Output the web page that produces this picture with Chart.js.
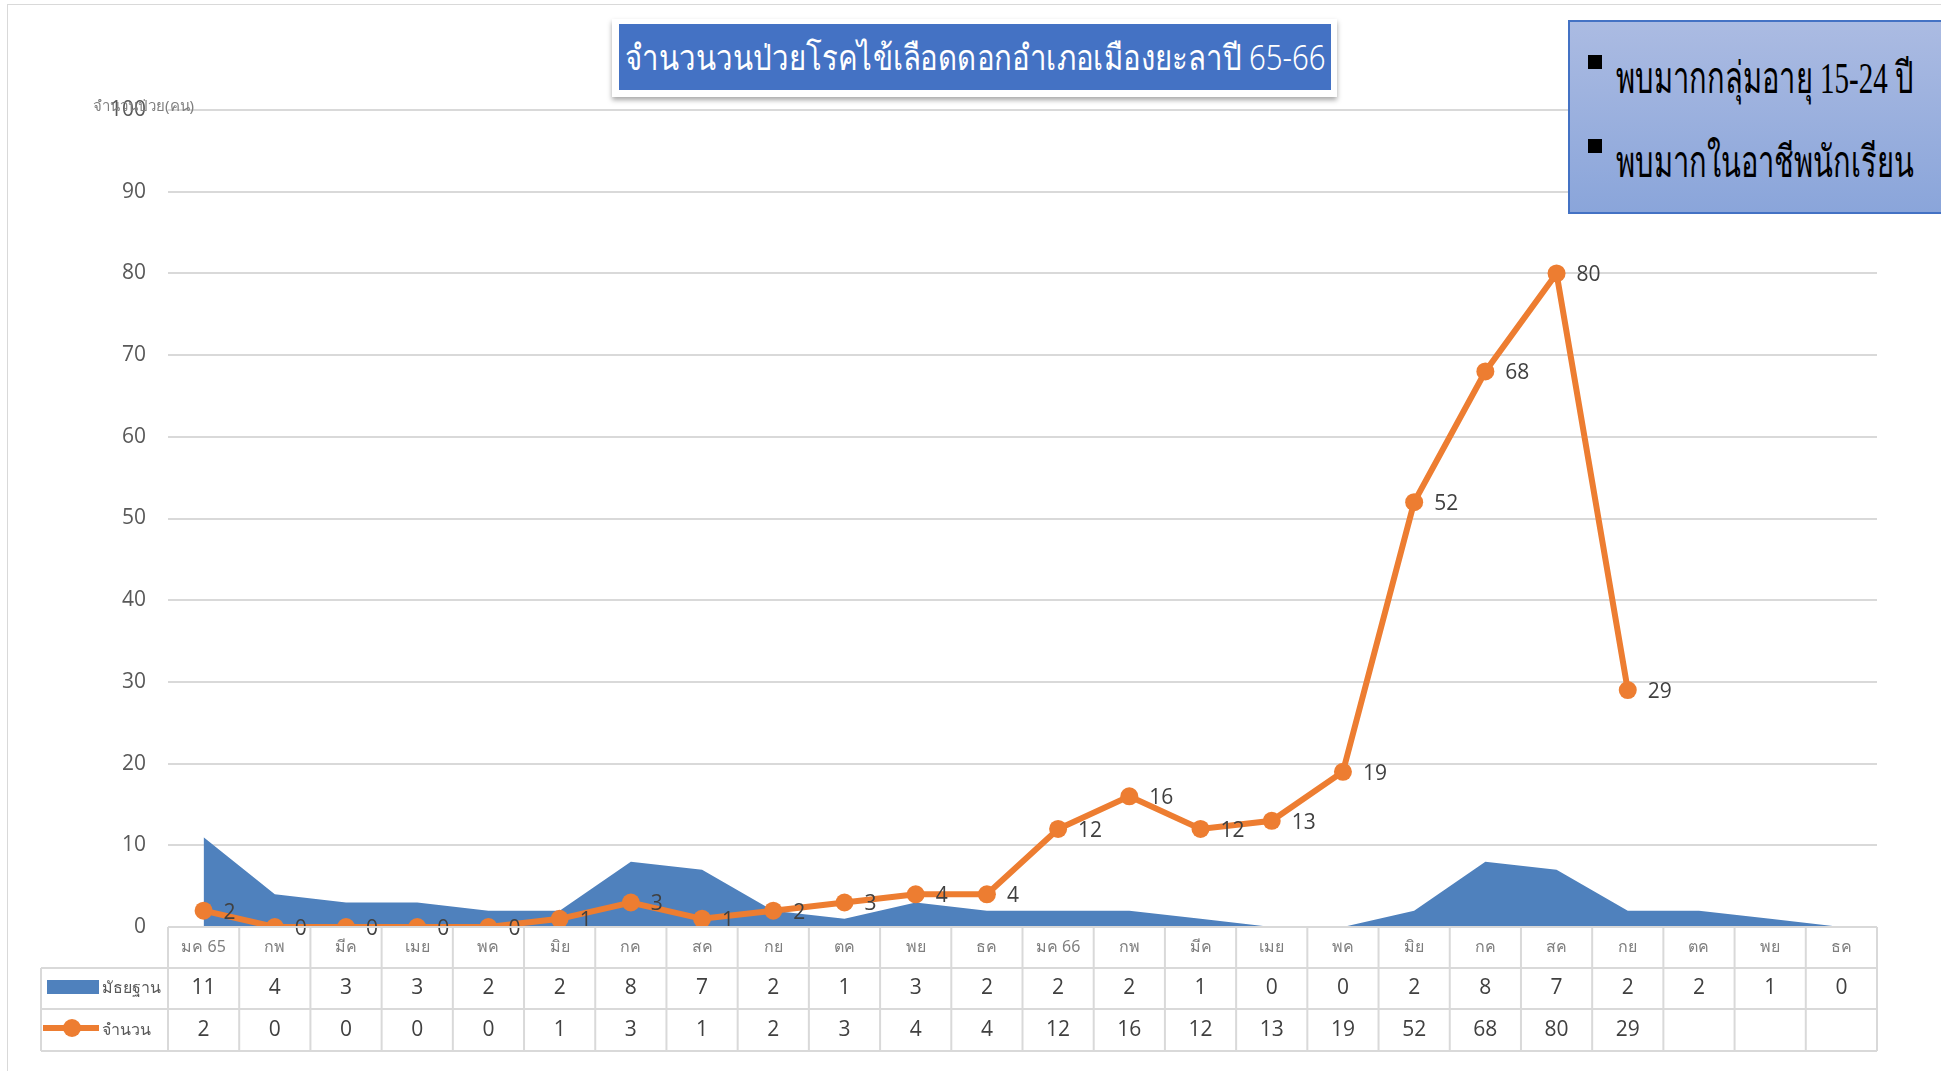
<!DOCTYPE html>
<html lang="th">
<head>
<meta charset="UTF-8">
<title>จำนวนป่วยโรคไข้เลือดออก</title>
<script src="https://cdn.jsdelivr.net/npm/chart.js"></script>
<style>
    body { margin: 0; background: #fff; }
    #wrap { position: relative; width: 1941px; height: 1071px; overflow: hidden; }
    #frame { position: absolute; left: 7px; top: 4px; width: 1960px; height: 1100px; border: 1px solid #d9d9d9; }
    canvas { position: absolute; left: 0; top: 0; }
    #title_box {
        position: absolute; left: 612px; top: 19px; width: 725px; height: 78px;
        background: #fff; box-shadow: 0 3px 5px rgba(0,0,0,0.35);
    }
    #title_box div {
        position: absolute; left: 7px; top: 5px; right: 6px; bottom: 7px;
        background: #4472c4; color: #fff; font-family: "Noto Sans", sans-serif; font-weight: 300;
        font-size: 35px; line-height: 66px; text-align: center; white-space: nowrap;
    }
    #title_box span { display: inline-block; transform: scaleX(0.84); transform-origin: center; margin: 0 -80px; }
    #note_box {
        position: absolute; left: 1568px; top: 20px; width: 400px; height: 190px;
        border: 2px solid #4472c4;
        background: linear-gradient(#abbbe2, #8aa5da);
        font-family: "Liberation Serif", serif; color: #000;
    }
    #note_box p { position: absolute; left: 18px; margin: 0; font-size: 44px; white-space: nowrap; }
    #note_box i { display: inline-block; width: 14px; height: 14px; background: #000; margin-right: 14px; vertical-align: 24px; }
    #note_box b { font-weight: normal; display: inline-block; transform: scaleX(0.66); transform-origin: left center; }
</style>
</head>
<body>
<div id="wrap">
    <div id="frame"></div>
    <canvas id="grafico" width="1941" height="1071"></canvas>
    <div id="title_box"><div><span>จำนวนวนป่วยโรคไข้เลือดดอกอำเภอเมืองยะลาปี 65-66</span></div></div>
    <div id="note_box">
        <p style="top: 20px;"><i></i><b>พบมากกลุ่มอายุ 15-24 ปี</b></p>
        <p style="top: 104px;"><i></i><b>พบมากในอาชีพนักเรียน</b></p>
    </div>
</div>

<script>
    // dados
    var meses = ["มค 65", "กพ", "มีค", "เมย", "พค", "มิย", "กค", "สค", "กย", "ตค", "พย", "ธค",
        "มค 66", "กพ", "มีค", "เมย", "พค", "มิย", "กค", "สค", "กย", "ตค", "พย", "ธค"]
    var mediana = [11, 4, 3, 3, 2, 2, 8, 7, 2, 1, 3, 2, 2, 2, 1, 0, 0, 2, 8, 7, 2, 2, 1, 0]
    var casos = [2, 0, 0, 0, 0, 1, 3, 1, 2, 3, 4, 4, 12, 16, 12, 13, 19, 52, 68, 80, 29, null, null, null]
    var nomeMediana = "มัธยฐาน"
    var nomeCasos = "จำนวน"
    var tituloEixoY = "จำนวนป่วย(คน)"

    var azul = '#4f81bd'
    var laranja = '#ed7d31'
    var grade = '#d9d9d9'

    // rotulos dos pontos + tabela de dados embaixo
    var pluginTabela = {
        id: 'tabela',
        afterDatasetsDraw(chart) {
            var c = chart.ctx
            var meta = chart.getDatasetMeta(1)
            c.save()
            c.fillStyle = '#404040'
            c.font = '21px "Open Sans", sans-serif'
            c.textAlign = 'left'
            c.textBaseline = 'middle'
            meta.data.forEach(function (p, i) {
                if (casos[i] === null) return
                c.fillText(casos[i], p.x + 20, p.y + 2)
            })
            c.restore()
        },
        afterDraw(chart) {
            var c = chart.ctx
            var x = chart.scales.x
            var area = chart.chartArea
            var larg = (area.right - area.left) / meses.length
            var y0 = area.bottom, y1 = y0 + 41, y2 = y1 + 41, y3 = y2 + 42
            var esq = 41
            c.save()
            c.strokeStyle = grade
            c.lineWidth = 2
            c.beginPath()
            c.moveTo(area.left, y0); c.lineTo(area.right, y0)
            ;[y1, y2, y3].forEach(function (y) { c.moveTo(esq, y); c.lineTo(area.right, y) })
            c.moveTo(esq, y1); c.lineTo(esq, y3)
            for (var i = 0; i <= meses.length; i++) {
                var xx = area.left + i * larg
                c.moveTo(xx, y0); c.lineTo(xx, y3)
            }
            c.stroke()

            c.textAlign = 'center'
            c.textBaseline = 'middle'
            meses.forEach(function (m, i) {
                var cx = x.getPixelForValue(i)
                c.fillStyle = '#7f7f7f'
                c.font = '16px "Noto Sans", sans-serif'
                c.fillText(m, cx, (y0 + y1) / 2)
                c.fillStyle = '#404040'
                c.font = '21px "Open Sans", sans-serif'
                c.fillText(mediana[i], cx, (y1 + y2) / 2)
                if (casos[i] !== null) c.fillText(casos[i], cx, (y2 + y3) / 2)
            })

            // legenda da tabela
            c.fillStyle = azul
            c.fillRect(47, 980, 52, 14)
            c.strokeStyle = laranja
            c.lineWidth = 6
            c.beginPath()
            c.moveTo(43, 1028); c.lineTo(99, 1028)
            c.stroke()
            c.fillStyle = laranja
            c.beginPath()
            c.arc(72, 1028, 9, 0, Math.PI * 2)
            c.fill()
            c.fillStyle = '#595959'
            c.textAlign = 'left'
            c.font = '16px "Noto Sans", sans-serif'
            c.fillText(nomeMediana, 102, (y1 + y2) / 2)
            c.fillText(nomeCasos, 102, (y2 + y3) / 2)

            // titulo do eixo y
            c.fillStyle = '#7f7f7f'
            c.font = '15px "Noto Sans", sans-serif'
            c.fillText(tituloEixoY, 93, 107)
            c.restore()
        }
    }

    var grafico = new Chart(document.getElementById('grafico').getContext('2d'), {
        type: 'line',
        data: {
            labels: meses,
            datasets: [{
                label: nomeMediana,
                data: mediana,
                fill: 'origin',
                backgroundColor: azul,
                borderWidth: 0,
                pointRadius: 0,
                tension: 0,
                order: 2
            },
            {
                label: nomeCasos,
                data: casos,
                fill: false,
                borderColor: laranja,
                backgroundColor: laranja,
                borderWidth: 6,
                pointRadius: 9,
                pointBackgroundColor: laranja,
                pointBorderWidth: 0,
                tension: 0,
                order: 1
            }]
        },
        options: {
            responsive: false,
            animation: false,
            layout: {
                padding: { left: 0, right: 64, top: 110, bottom: 144 }
            },
            plugins: {
                legend: { display: false },
                tooltip: { enabled: false }
            },
            scales: {
                x: {
                    display: false,
                    offset: true
                },
                y: {
                    min: 0,
                    max: 100,
                    ticks: {
                        stepSize: 10,
                        color: '#595959',
                        padding: 22,
                        font: { size: 21, family: '"Open Sans", sans-serif' }
                    },
                    grid: { color: grade, lineWidth: 2, drawTicks: false },
                    border: { display: false },
                    afterFit(scale) { scale.width = 168 }
                }
            }
        },
        plugins: [pluginTabela]
    })
</script>
</body>
</html>
